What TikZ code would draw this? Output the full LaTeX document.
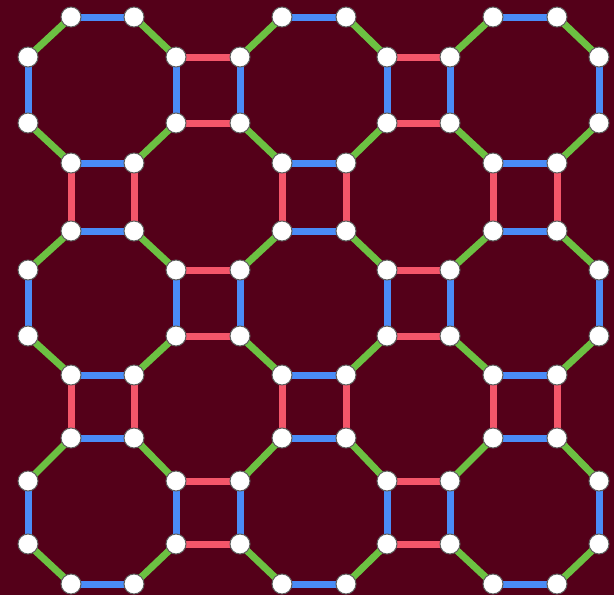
\documentclass[tikz,border=0pt]{standalone}
\definecolor{bg}{HTML}{540019}
\definecolor{eb}{HTML}{4A8CF7}
\definecolor{er}{HTML}{F4566A}
\definecolor{eg}{HTML}{6CC142}
\definecolor{nodeline}{HTML}{5E5E5E}
\pgfdeclarelayer{bgl}
\pgfdeclarelayer{edges}
\pgfsetlayers{bgl,edges,main}
\begin{document}
\begin{tikzpicture}[x=1pt,y=-1pt,
  vtx/.style={circle,fill=white,draw=nodeline,line width=1pt,minimum size=20pt,inner sep=0pt},
  edge/.style={line width=7pt}]
\begin{pgfonlayer}{bgl}
\fill[bg] (0,0) rectangle (614,595);
\end{pgfonlayer}
\useasboundingbox (0,0) rectangle (614,595);
\def\xarr{{28,71,134,176,240,282,346,387,450,493,557,599}}
\def\yarr{{17,57,123,163,231,270,336,375,438,481,544,584}}
% vertices
\foreach \i in {0,...,11}{
  \foreach \j in {0,...,11}{
    \pgfmathtruncatemacro\e{mod(floor((\i-1)/2)+floor((\j-1)/2)+10,2)}
    \ifnum\e=1
      \pgfmathsetmacro\xx{\xarr[\i]}
      \pgfmathsetmacro\yy{\yarr[\j]}
      \node[vtx] (v-\i-\j) at (\xx,\yy) {};
    \fi
  }
}
\begin{pgfonlayer}{edges}
% horizontal square edges
\foreach \i/\col in {1/eb,3/er,5/eb,7/er,9/eb}{
  \foreach \j in {0,...,11}{
    \pgfmathtruncatemacro\e{mod(floor((\i-1)/2)+floor((\j-1)/2)+10,2)}
    \pgfmathtruncatemacro\ii{\i+1}
    \ifnum\e=1
      \draw[edge,\col] (v-\i-\j.center) -- (v-\ii-\j.center);
    \fi
  }
}
% vertical square edges
\foreach \i/\col in {0/eb,1/er,2/er,3/eb,4/eb,5/er,6/er,7/eb,8/eb,9/er,10/er,11/eb}{
  \foreach \j in {1,3,5,7,9}{
    \pgfmathtruncatemacro\e{mod(floor((\i-1)/2)+floor((\j-1)/2)+10,2)}
    \pgfmathtruncatemacro\jj{\j+1}
    \ifnum\e=1
      \draw[edge,\col] (v-\i-\j.center) -- (v-\i-\jj.center);
    \fi
  }
}
% diagonal edges
\foreach \i in {0,2,4,6,8,10}{
  \foreach \j in {0,...,11}{
    \pgfmathtruncatemacro\e{mod(floor((\i-1)/2)+floor((\j-1)/2)+10,2)}
    \pgfmathtruncatemacro\ii{\i+1}
    \pgfmathtruncatemacro\jj{\j+1-2*mod(\j,2)}
    \ifnum\e=1
      \draw[edge,eg] (v-\i-\j.center) -- (v-\ii-\jj.center);
    \fi
  }
}
\end{pgfonlayer}
\end{tikzpicture}
\end{document}
